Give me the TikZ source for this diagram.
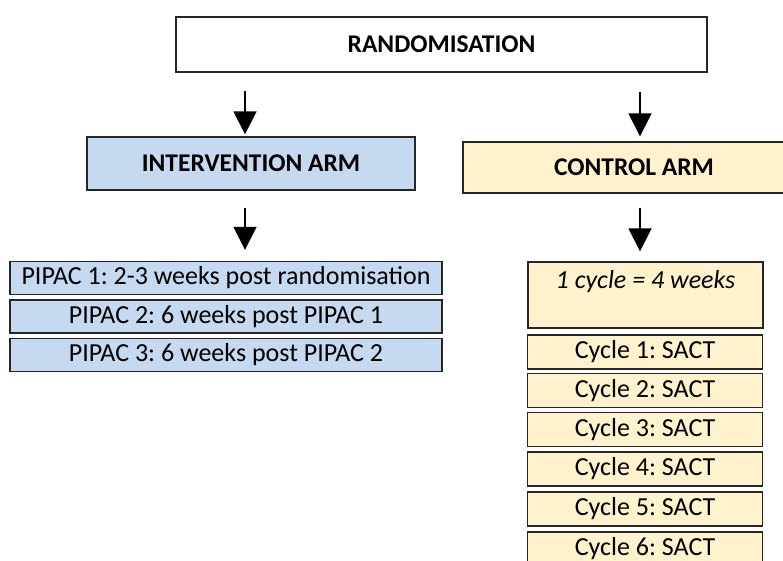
\documentclass[tikz,border=0pt]{standalone}
\usepackage{fontspec}
\setmainfont{Carlito}
\usetikzlibrary{arrows.meta,positioning}
\definecolor{armblue}{RGB}{197,217,241}
\definecolor{armyellow}{RGB}{255,242,204}
\frenchspacing

\begin{document}
\begin{tikzpicture}[
    x=1pt, y=-1pt,
    box/.style={rectangle, draw=black!85, line width=1.4pt, inner sep=0pt, font=\fontsize{26}{30}\selectfont},
    heading/.style={box, font=\fontsize{25.5}{30}\selectfont\bfseries},
    pipac/.style={box, fill=armblue, minimum width=432pt, minimum height=33pt},
    cycle/.style={box, fill=armyellow, minimum width=235pt, minimum height=34pt},
    arrow/.style={-{Triangle[length=23pt, width=23pt]}, line width=1.8pt}
]
\clip (0,0) rectangle (783,561);

% Randomisation
\node[heading, minimum width=531pt, minimum height=55pt] (rand) at (441.5,44.5) {RANDOMISATION};

% Arms
\node[heading, fill=armblue, minimum width=328pt, minimum height=53pt] (int) at (251,163.5) {INTERVENTION ARM};
\node[heading, fill=armyellow, minimum width=342pt, minimum height=51pt] (ctrl) at (634,167.5) {CONTROL ARM};

% Intervention schedule
\node[pipac] (p1) at (226,278) {PIPAC 1: 2-3 weeks post randomisation};
\node[pipac] (p2) at (226,316.5) {PIPAC 2: 6 weeks post PIPAC 1};
\node[pipac] (p3) at (226,355) {PIPAC 3: 6 weeks post PIPAC 2};

% Control schedule
\node[cycle, text height=26pt, text depth=40pt, font=\fontsize{26}{30}\selectfont\itshape] (cyc) at (645.5,295) {1 cycle = 4 weeks};
\node[cycle] (c1) at (645,352) {Cycle 1: SACT};
\node[cycle] (c2) at (645,390.5) {Cycle 2: SACT};
\node[cycle] (c3) at (645,429.5) {Cycle 3: SACT};
\node[cycle] (c4) at (645,469) {Cycle 4: SACT};
\node[cycle] (c5) at (645,509) {Cycle 5: SACT};
\node[cycle] (c6) at (645,549) {Cycle 6: SACT};

% Arrows
\draw[arrow, transform canvas={xshift=-6pt}, shorten <=18pt, shorten >=2pt] (rand.south -| int.north) -- (int.north);
\draw[arrow, transform canvas={xshift=6pt}, shorten <=19pt, shorten >=5pt] (rand.south -| ctrl.north) -- (ctrl.north);
\draw[arrow, transform canvas={xshift=-6pt}, shorten <=17pt, shorten >=11pt] (int.south) -- (int.south |- p1.north);
\draw[arrow, transform canvas={xshift=6pt}, shorten <=14pt, shorten >=10pt] (ctrl.south) -- (ctrl.south |- cyc.north);

\end{tikzpicture}
\end{document}
